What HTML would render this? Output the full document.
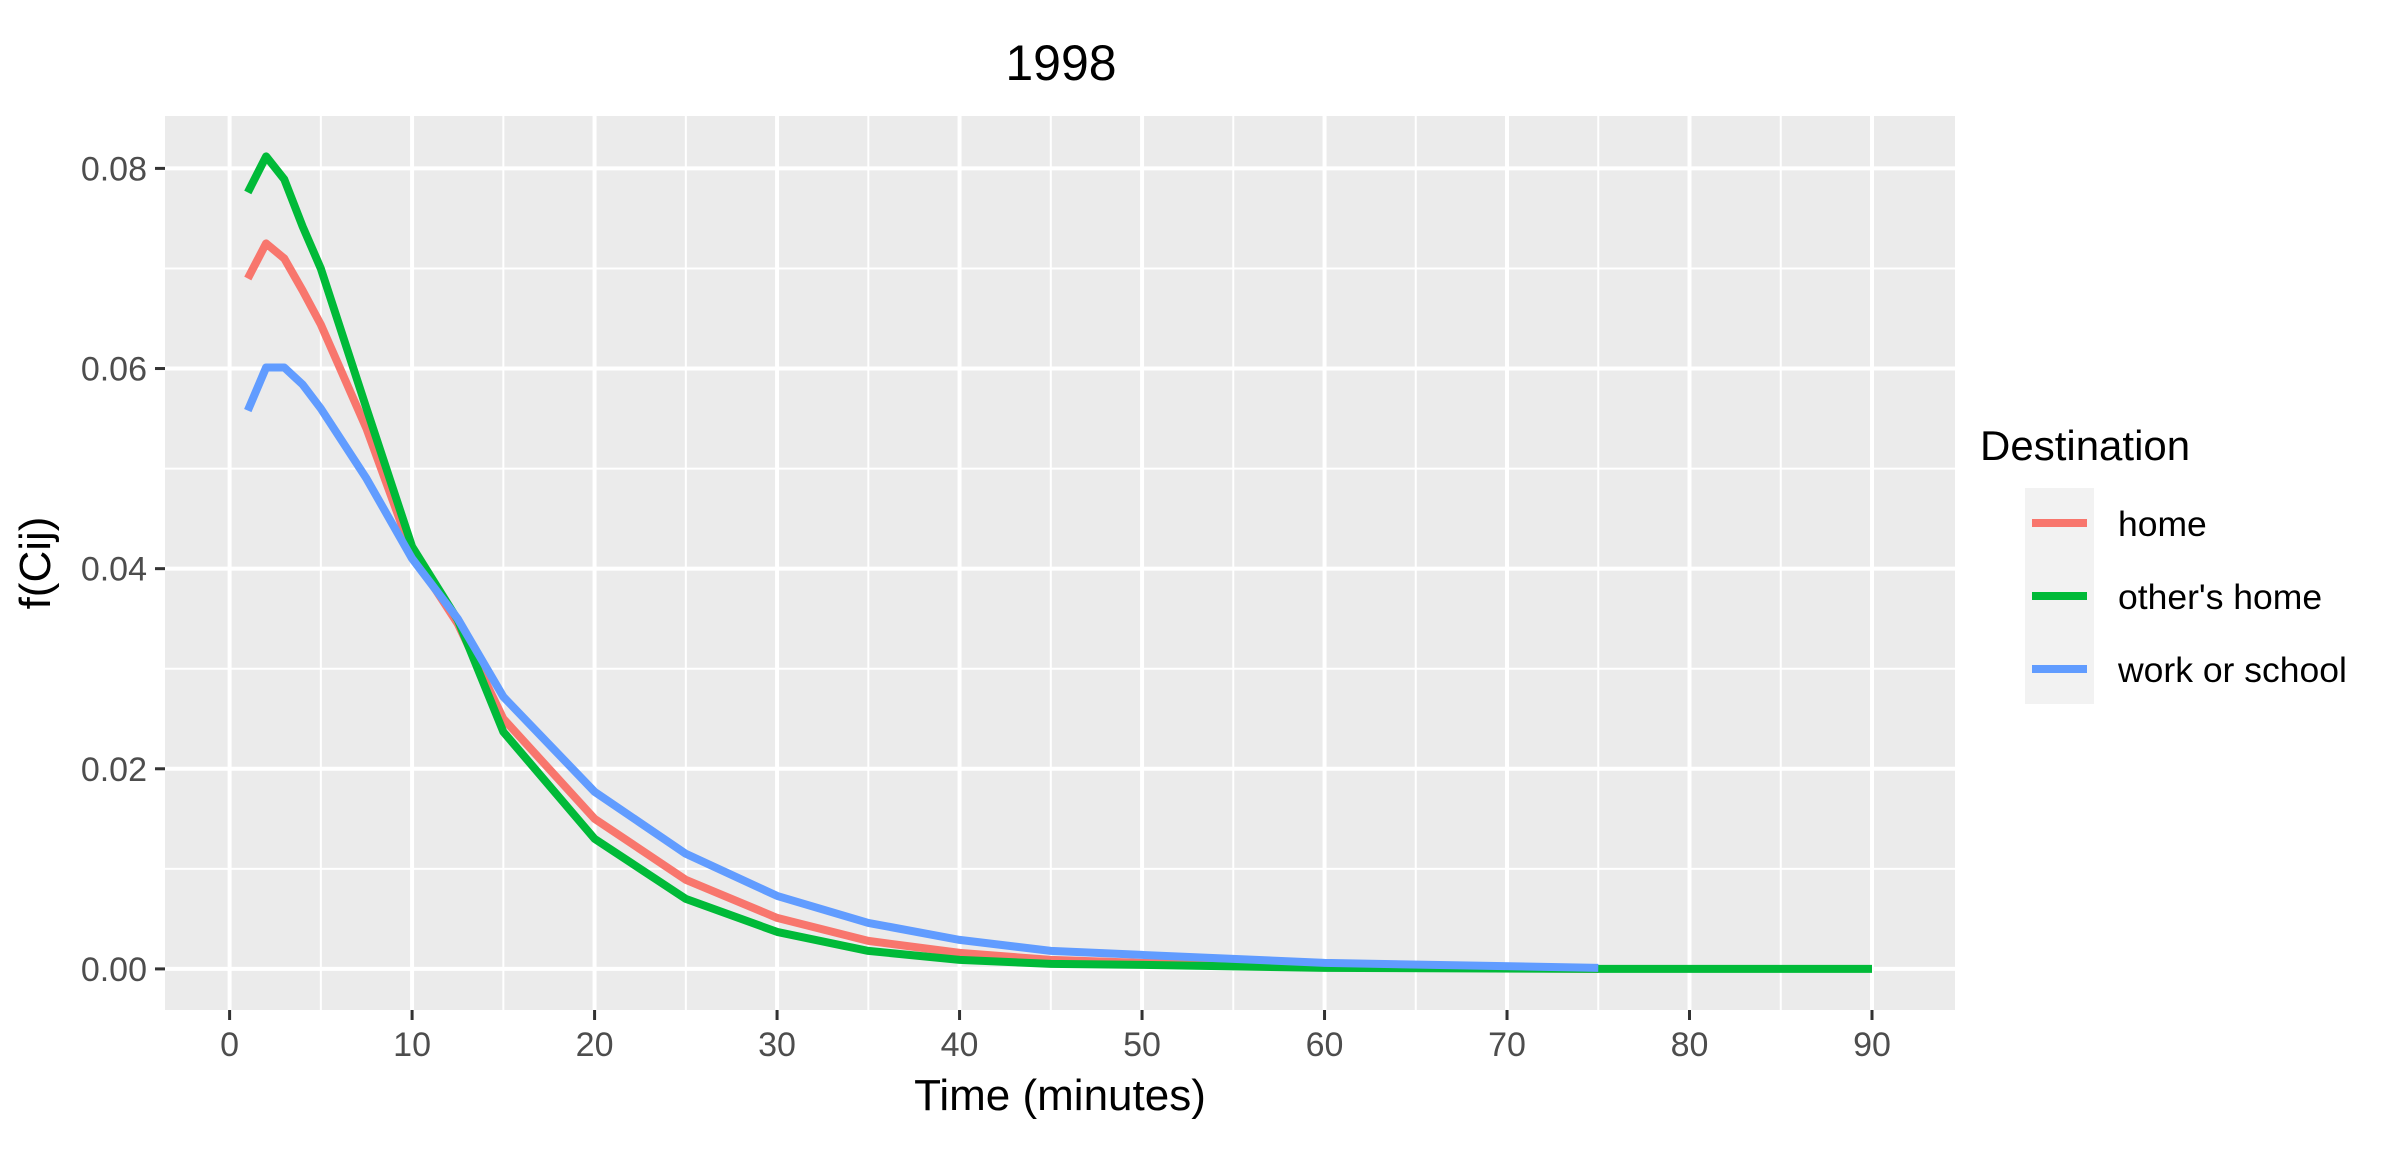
<!DOCTYPE html>
<html><head><meta charset="utf-8">
<style>
html,body{margin:0;padding:0;background:#fff;}
svg{display:block;font-family:"Liberation Sans",Arial,sans-serif;}
</style></head>
<body>
<svg id="chart" width="2400" height="1160" viewBox="0 0 2400 1160" xmlns="http://www.w3.org/2000/svg">
<rect x="0" y="0" width="2400" height="1160" fill="#fff"/>
<rect x="165" y="116" width="1790" height="894" fill="#ebebeb"/>
<g id="grid"></g>
<g id="series"></g>
<g id="axes"></g>
<text x="1061" y="80" font-size="50" text-anchor="middle" fill="#000">1998</text>
<text x="1060" y="1110" font-size="44" text-anchor="middle" fill="#000">Time (minutes)</text>
<text transform="translate(50,563) rotate(-90)" font-size="44" text-anchor="middle" fill="#000">f(Cij)</text>
<g>
<text x="1980" y="460" font-size="42" fill="#000">Destination</text>
<rect x="2025" y="488" width="69" height="216" fill="#f2f2f2"/>
<line x1="2032" y1="523" x2="2087" y2="523" stroke="#F8766D" stroke-width="8"/>
<line x1="2032" y1="596" x2="2087" y2="596" stroke="#00BA38" stroke-width="8"/>
<line x1="2032" y1="669" x2="2087" y2="669" stroke="#619CFF" stroke-width="8"/>
<text x="2118" y="536" font-size="35.5" fill="#000">home</text>
<text x="2118" y="609" font-size="35.5" fill="#000">other's home</text>
<text x="2118" y="682" font-size="35.5" fill="#000">work or school</text>
</g>
</svg>
<script>
const xHome = [1,2,3,4,5,7.5,10,12.5,15,20,25,30,35,40,45,50,60,75];
const yHome = [0.069,0.0725,0.071,0.0678,0.0644,0.054,0.0415,0.0345,0.025,0.015,0.0089,0.0051,0.0028,0.0016,0.0009,0.0006,0.0002,0.0];
const xOther = [1,2,3,4,5,7.5,10,12.5,15,20,25,30,35,40,45,50,60,75,90];
const yOther = [0.0776,0.0812,0.0789,0.0742,0.070,0.056,0.0422,0.0349,0.0237,0.013,0.007,0.0037,0.0018,0.0009,0.0005,0.0004,0.0001,0.0,0.0];
const xWork = [1,2,3,4,5,7.5,10,12.5,15,20,25,30,35,40,45,50,60,75];
const yWork = [0.0558,0.0601,0.0601,0.0584,0.056,0.049,0.041,0.035,0.0272,0.0177,0.0115,0.0073,0.0046,0.0029,0.0018,0.0014,0.0006,0.0001];
const xTicks = [0,10,20,30,40,50,60,70,80,90];
const xTickLabels = ["0","10","20","30","40","50","60","70","80","90"];
const xMinor = [5,15,25,35,45,55,65,75,85];
const yTicks = [0,0.02,0.04,0.06,0.08];
const yTickLabels = ["0.00","0.02","0.04","0.06","0.08"];
const yMinor = [0.01,0.03,0.05,0.07];

const NS = "http://www.w3.org/2000/svg";
const X0 = 229.6, XS = (1872-229.6)/90;
const Y0 = 968.9, YS = (968.9-168.4)/0.08;
function sx(v){return X0 + v*XS;}
function sy(v){return Y0 - v*YS;}
function mk(tag, attrs, parent){
  const e = document.createElementNS(NS, tag);
  for (const k in attrs) e.setAttribute(k, attrs[k]);
  parent.appendChild(e); return e;
}
const grid = document.getElementById('grid');
const axes = document.getElementById('axes');
const series = document.getElementById('series');

xMinor.forEach(v=>{
  const l = mk('line',{x1:sx(v),x2:sx(v),y1:116,y2:1010,stroke:'#fff','stroke-width':2},grid);
  
  
});
yMinor.forEach(v=>{
  const l = mk('line',{x1:165,x2:1955,y1:sy(v),y2:sy(v),stroke:'#fff','stroke-width':2},grid);
  
  
});
xTicks.forEach((v,i)=>{
  const l = mk('line',{x1:sx(v),x2:sx(v),y1:116,y2:1010,stroke:'#fff','stroke-width':4},grid);
  
  
  const t = mk('line',{x1:sx(v),x2:sx(v),y1:1010,y2:1020,stroke:'#333','stroke-width':3},axes);
  
  
  const tx = mk('text',{x:sx(v),y:1056,'font-size':34,'text-anchor':'middle',fill:'#4d4d4d'},axes);
  tx.textContent = xTickLabels[i];
  
  
});
yTicks.forEach((v,i)=>{
  const l = mk('line',{x1:165,x2:1955,y1:sy(v),y2:sy(v),stroke:'#fff','stroke-width':4},grid);
  
  
  const t = mk('line',{x1:155,x2:165,y1:sy(v),y2:sy(v),stroke:'#333','stroke-width':3},axes);
  
  
  const tx = mk('text',{x:147,y:sy(v)+12,'font-size':34,'text-anchor':'end',fill:'#4d4d4d'},axes);
  tx.textContent = yTickLabels[i];
  
  
});
function drawLine(xs, ys, color, name){
  const pts = xs.map((x,i)=>sx(x).toFixed(1)+','+sy(ys[i]).toFixed(1)).join(' ');
  const p = mk('polyline',{points:pts,fill:'none',stroke:color,'stroke-width':8,'stroke-linejoin':'round'},series);
  
  
}
drawLine(xHome, yHome, '#F8766D', 'line-home');
drawLine(xOther, yOther, '#00BA38', 'line-others-home');
drawLine(xWork, yWork, '#619CFF', 'line-work-or-school');
</script>
</body></html>
